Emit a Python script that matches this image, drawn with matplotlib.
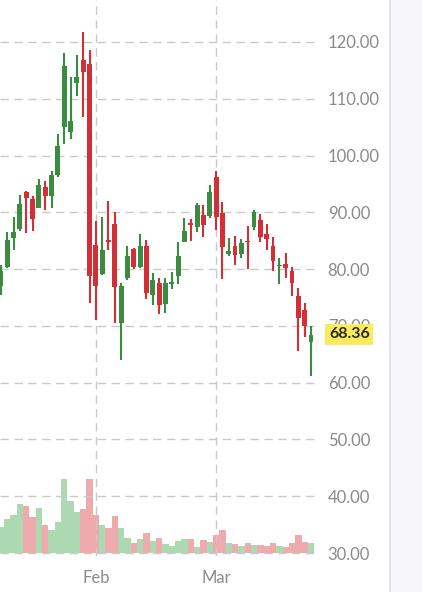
import numpy as np
import pandas as pd
import matplotlib
matplotlib.use("Agg")
import matplotlib.pyplot as plt
import matplotlib.transforms as mtransforms
from matplotlib.patches import Rectangle

# daily OHLC
opens = [77.0, 80.4, 85.4, 87.1, 93.5, 92.4, 90.8, 94.5, 92.9, 96.5,
         105.0, 104.1, 112.8, 116.8, 116.1, 84.3, 79.2, 85.1, 88.0, 70.5,
         78.4, 83.5, 80.4, 84.1, 75.5, 77.5, 73.9, 77.4, 78.8, 84.8,
         88.2, 87.5, 89.5, 89.4, 96.3, 89.8, 82.7, 84.0, 82.7, 84.9,
         87.5, 88.7, 86.2, 84.0, 80.5, 80.9, 79.6, 75.3, 72.8, 67.1]
highs = [80.7, 86.6, 89.2, 93.1, 93.8, 92.9, 95.9, 95.6, 97.2, 103.8,
         118.0, 113.8, 117.7, 121.8, 118.6, 88.4, 89.2, 92.0, 90.0, 77.5,
         84.0, 83.7, 86.2, 85.1, 79.3, 78.4, 78.4, 79.5, 84.8, 89.0,
         88.8, 91.6, 91.3, 94.8, 97.3, 91.9, 85.4, 85.8, 85.3, 87.6,
         90.4, 89.7, 88.0, 85.6, 81.9, 82.8, 80.4, 76.7, 74.1, 69.9]
lows = [75.5, 80.2, 83.4, 86.8, 86.4, 86.8, 90.7, 90.4, 90.7, 96.3,
        102.0, 103.0, 110.5, 106.8, 74.0, 71.1, 79.0, 83.4, 70.5, 64.0,
        78.1, 80.0, 80.2, 74.7, 73.7, 72.1, 72.3, 76.5, 77.3, 84.7,
        85.0, 86.6, 85.7, 89.0, 86.9, 78.2, 82.3, 80.7, 81.9, 80.0,
        86.9, 84.7, 83.4, 79.6, 77.4, 78.4, 75.3, 65.6, 68.0, 61.2]
closes = [79.6, 85.1, 86.5, 91.5, 92.5, 88.8, 94.8, 92.8, 96.6, 101.6,
          115.8, 106.0, 113.8, 114.8, 78.8, 77.1, 83.4, 84.7, 76.9, 77.0,
          82.3, 80.3, 84.0, 75.8, 78.1, 73.7, 77.5, 77.6, 82.3, 86.8,
          87.8, 91.3, 87.7, 93.5, 89.1, 83.9, 83.2, 82.4, 84.6, 84.7,
          90.0, 85.6, 85.3, 81.5, 80.7, 80.2, 77.6, 71.4, 69.9, 68.36]
# volume in millions
volumes = [10.6, 13.7, 15.3, 19.6, 18.9, 14.6, 18.2, 11.3, 9.3, 12.6,
           29.7, 20.9, 16.6, 17.7, 29.7, 15.3, 11.3, 10.0, 15.0, 10.0,
           6.0, 4.2, 5.6, 8.2, 4.9, 6.2, 3.7, 2.9, 5.0, 5.6,
           5.6, 2.6, 5.2, 4.6, 7.3, 9.3, 4.1, 3.7, 2.8, 4.1,
           3.3, 3.3, 2.8, 4.1, 2.8, 2.4, 4.1, 7.3, 4.6, 4.1]

dates = pd.bdate_range("2021-01-08", periods=len(opens), freq="C",
                       holidays=["2021-01-18", "2021-02-15"])

o = np.array(opens); h = np.array(highs); l = np.array(lows); c = np.array(closes)
v = np.array(volumes)
x = np.arange(len(o))
up = c >= o

green, red = "#3b8c41", "#d42f37"
vgreen, vred = "#acd8b2", "#eeaaac"
cols = np.where(up, green, red)
vcols = np.where(up, vgreen, vred)

W, H = 422, 592
fig = plt.figure(figsize=(W / 100, H / 100), dpi=100)
fig.patch.set_facecolor("white")

# grey side panel on the right
fig.patches.append(Rectangle((390 / W, 0), 1, 1, transform=fig.transFigure,
                             facecolor="#f6f6f9", edgecolor="none", zorder=0))
fig.lines.append(plt.Line2D([390 / W, 390 / W], [0, 1], transform=fig.transFigure,
                            color="#dedee6", lw=1.2))

ax_bottom = 556
ax = fig.add_axes([0, (H - ax_bottom) / H, 318 / W, ax_bottom / H])
px_per_unit = (553 - 42) / 90.0
p_top = 120 + 42 / px_per_unit
p_bot = 120 - (ax_bottom - 42) / px_per_unit

# volume on a twin axis, baseline on the 30.00 line
axv = ax.twinx()
axv.set_zorder(0)
ax.set_zorder(1)
ax.patch.set_visible(False)
vol_px = 2.5
vrange = ax_bottom / vol_px
a = (30 - p_bot) / (p_top - p_bot) * vrange
axv.bar(x, v, width=1.0, color=vcols, linewidth=0)
axv.set_ylim(-a, vrange - a)
axv.set_yticks([])
for s in axv.spines.values():
    s.set_visible(False)

# candles
ax.vlines(x, l, h, colors=cols, linewidth=1.5, zorder=3)
body = np.maximum(np.abs(c - o), 0.3)
ax.bar(x, body, bottom=np.minimum(o, c), width=0.76, color=cols, linewidth=0, zorder=4)

ax.set_xlim(-0.142, 50.1)
ax.set_ylim(p_bot, p_top)

ax.yaxis.tick_right()
ax.set_yticks(np.arange(30, 121, 10))
ax.set_yticklabels([f"{t:.2f}" for t in np.arange(30, 121, 10)])

month_pos = [i for i in range(1, len(dates)) if dates[i].month != dates[i - 1].month]
ax.set_xticks(month_pos)
ax.set_xticklabels([dates[i].strftime("%b") for i in month_pos])

ax.tick_params(axis="both", length=0, labelsize=12, labelcolor="#8a8a8a")
ax.tick_params(axis="y", pad=7)
ax.tick_params(axis="x", pad=10)
for lab in ax.get_xticklabels() + ax.get_yticklabels():
    lab.set_family(["Lato", "DejaVu Sans"])

ax.grid(True, color="#c9c9c9", linestyle=(0, (6, 4)), linewidth=1.0)
ax.set_axisbelow(True)
for s in ax.spines.values():
    s.set_visible(False)

# last price tag
trans = mtransforms.blended_transform_factory(ax.transAxes, ax.transData)
ax.annotate(f"{closes[-1]:.2f}", xy=(1.0, closes[-1]), xycoords=trans,
            xytext=(11, 1), textcoords="offset pixels", ha="left", va="center",
            fontsize=11.5, fontweight="bold", color="#2a2a20", family=["Lato", "DejaVu Sans"],
            bbox=dict(boxstyle="square,pad=0.22", facecolor="#f8ec5c", edgecolor="none"),
            annotation_clip=False, zorder=10)

fig.savefig("out.png", dpi=100)
